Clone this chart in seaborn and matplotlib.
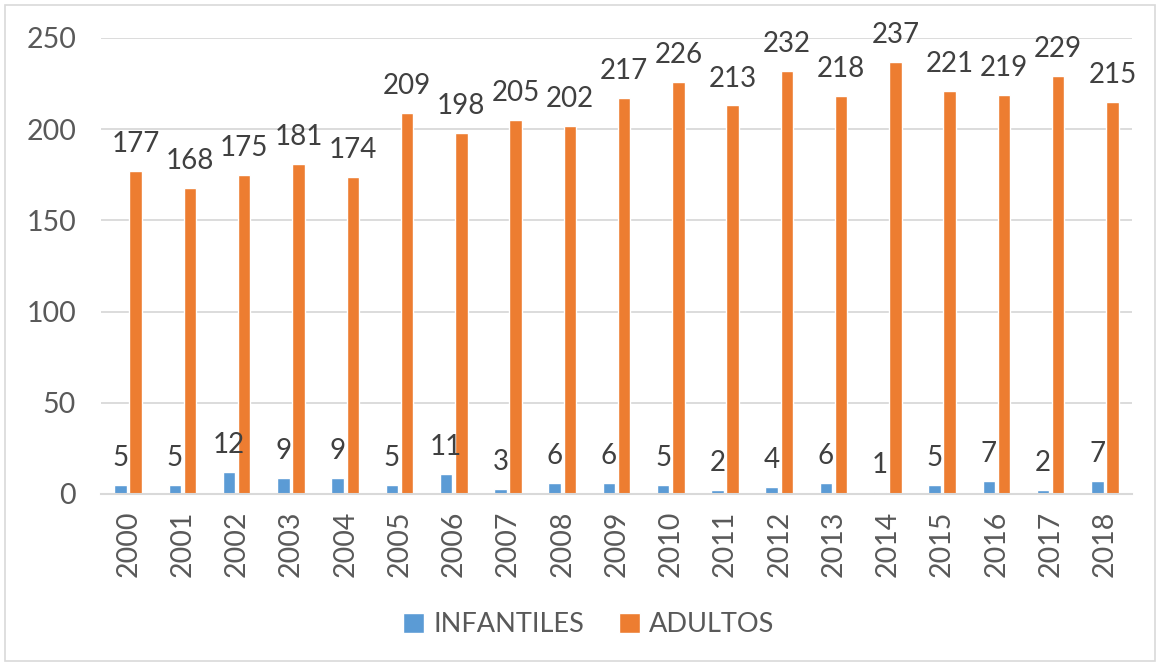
import matplotlib
matplotlib.use("Agg")
import matplotlib.pyplot as plt
import seaborn as sns
import pandas as pd
from matplotlib.patches import Rectangle

years = ["2000", "2001", "2002", "2003", "2004", "2005", "2006", "2007", "2008", "2009",
         "2010", "2011", "2012", "2013", "2014", "2015", "2016", "2017", "2018"]
infantiles = [5, 5, 12, 9, 9, 5, 11, 3, 6, 6, 5, 2, 4, 6, 1, 5, 7, 2, 7]
adultos = [177, 168, 175, 181, 174, 209, 198, 205, 202, 217, 226, 213, 232, 218, 237, 221, 219, 229, 215]
series_names = ["INFANTILES", "ADULTOS"]
colors = ["#5B9BD5", "#ED7D31"]
yticks = [0, 50, 100, 150, 200, 250]

sns.set_theme(style="white")
plt.rcParams["font.family"] = ["Lato", "DejaVu Sans"]

df = pd.DataFrame({
    "year": years * 2,
    "value": infantiles + adultos,
    "serie": [series_names[0]] * len(years) + [series_names[1]] * len(years),
})

fig = plt.figure(figsize=(11.59, 6.66), dpi=100)
ax = fig.add_axes([101 / 1159, 1 - 494 / 666, 1031 / 1159, 456 / 666])

sns.barplot(data=df, x="year", y="value", hue="serie", order=years, hue_order=series_names,
            palette=colors, width=0.56, gap=0.18, ax=ax, saturation=1, legend=True)

ax.set_ylim(0, 250)
ax.set_xlim(-0.5, len(years) - 0.5)
ax.set_yticks(yticks)
ax.set_yticklabels([str(t) for t in yticks])
ax.yaxis.grid(True, color="#D9D9D9", linewidth=1.3)
ax.set_axisbelow(True)
for s in ["top", "right", "left"]:
    ax.spines[s].set_visible(False)
ax.spines["bottom"].set_color("#D9D9D9")
ax.spines["bottom"].set_linewidth(1.5)
ax.tick_params(axis="both", length=0, colors="#595959", labelsize=20.5)
ax.tick_params(axis="y", pad=18)
ax.tick_params(axis="x", pad=12)
for lab in ax.get_xticklabels():
    lab.set_rotation(90)
ax.set_xlabel("")
ax.set_ylabel("")

for cont in ax.containers:
    ax.bar_label(cont, fmt="%d", padding=10, fontsize=20, color="#404040", clip_on=False)

handles, labels = ax.get_legend_handles_labels()
ax.legend(handles, labels, loc="center", bbox_to_anchor=(589 / 1159, 1 - 625 / 666),
          bbox_transform=fig.transFigure, ncol=2, frameon=False, fontsize=19.5,
          labelcolor="#595959", handlelength=0.75, handleheight=0.75, columnspacing=1.3,
          handletextpad=0.35)

fig.patches.append(Rectangle((5 / 1159, 5 / 666), 1150 / 1159, 656 / 666, transform=fig.transFigure,
                             fill=False, edgecolor="#D9D9D9", linewidth=1.2))

fig.savefig("out.png", dpi=100)
